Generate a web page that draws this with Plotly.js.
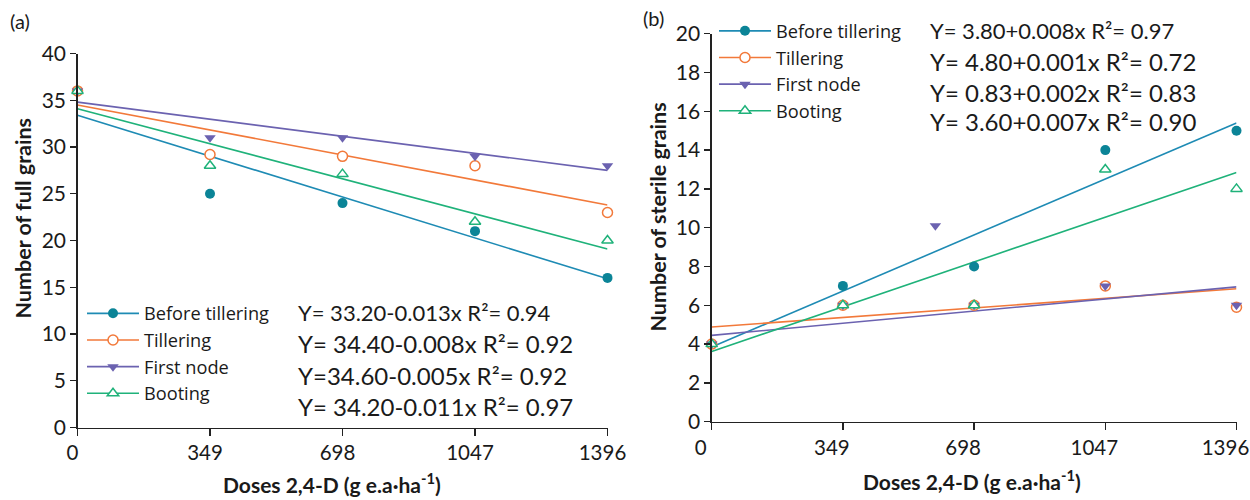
<!DOCTYPE html>
<html>
<head>
<meta charset="utf-8">
<script src="https://cdn.plot.ly/plotly-3.0.1.min.js"></script>
<style>
  html, body { margin: 0; padding: 0; background: #ffffff; }
  #chart { width: 1250px; height: 500px; }
</style>
</head>
<body>
<div id="chart"></div>
<script>
// ---------------- DATA ----------------
const doses = [0, 349, 698, 1047, 1396];
const doseTicks = ['0', '349', '698', '1047', '1396'];
const seriesNames = ['Before tillering', 'Tillering', 'First node', 'Booting'];

// (a) Number of full grains
const fullBefore    = [36, 25, 24, 21, 16];
const fullTillering = [36, 29.2, 29, 28, 23];
const fullFirstNode = [36, 31, 31, 29, 28];
const fullBooting   = [36, 28, 27.1, 22, 20];

// fitted lines (start at dose 0, end at dose 1396)
const fitDoses = [0, 1396];
const fullFitBefore    = [33.4, 15.9];
const fullFitTillering = [34.5, 23.8];
const fullFitFirstNode = [34.8, 27.5];
const fullFitBooting   = [34.1, 19.1];

const fullEquations = [
  'Y= 33.20-0.013x R²= 0.94',
  'Y= 34.40-0.008x R²= 0.92',
  'Y=34.60-0.005x R²= 0.92',
  'Y= 34.20-0.011x R²= 0.97'
];

// (b) Number of sterile grains
const sterileBefore    = [4, 7, 8, 14, 15];
const sterileTillering = [4, 6, 6, 7, 5.9];
const sterileFirstNodeDoses = [0, 349, 595, 698, 1047, 1396];
const sterileFirstNode = [4, 6, 10.1, 6, 7, 6];
const sterileBooting   = [4, 6, 6, 13, 12];

const sterileFitBefore    = [3.85, 15.4];
const sterileFitTillering = [4.88, 6.85];
const sterileFitFirstNode = [4.45, 6.95];
const sterileFitBooting   = [3.62, 12.85];

const sterileEquations = [
  'Y= 3.80+0.008x R²= 0.97',
  'Y= 4.80+0.001x R²= 0.72',
  'Y= 0.83+0.002x R²= 0.83',
  'Y= 3.60+0.007x R²= 0.90'
];

const xTitle = 'Doses 2,4-D (g e.a·ha<sup>-1</sup>)';
const yTitleFull = 'Number of full grains';
const yTitleSterile = 'Number of sterile grains';

// ---------------- STYLE ----------------
const FONT = 'Lato, "Open Sans", "Noto Sans", sans-serif';
const LEGFONT = '"Open Sans", Lato, sans-serif';
const TXT = '#1a1a1a';
const styles = [
  { line: '#1e8bb4', marker: { symbol: 'circle', color: '#0b8497', size: 10, line: { width: 0 } } },
  { line: '#f2793a', marker: { symbol: 'circle-open', color: '#f2793a', size: 10, line: { width: 1.5, color: '#f2793a' } } },
  { line: '#6b62b0', marker: { symbol: 'triangle-down', color: '#6b62b0', size: 10, line: { width: 0 } } },
  { line: '#1fb27a', marker: { symbol: 'triangle-up-open', color: '#1fb27a', size: 10, line: { width: 1.5, color: '#1fb27a' } } }
];

function markerStyle(i) {
  const s = styles[i];
  const m = JSON.parse(JSON.stringify(s.marker));
  if (m.symbol.endsWith('-open')) {
    m.symbol = m.symbol.replace('-open', '');
    m.color = '#ffffff';
  }
  return m;
}

const traces = [];
function addPanel(xa, ya, legendId, xs, ys, fits) {
  fits.forEach((f, i) => {
    traces.push({
      type: 'scatter', mode: 'lines', x: fitDoses, y: f,
      xaxis: xa, yaxis: ya, showlegend: false, hoverinfo: 'skip',
      line: { color: styles[i].line, width: 1.6 }, cliponaxis: false
    });
  });
  ys.forEach((yv, i) => {
    traces.push({
      type: 'scatter', mode: 'markers', x: xs[i], y: yv,
      xaxis: xa, yaxis: ya, showlegend: false,
      marker: markerStyle(i), cliponaxis: false
    });
  });
  seriesNames.forEach((name, i) => {
    traces.push({
      type: 'scatter', mode: 'lines+markers', x: [null], y: [null],
      xaxis: xa, yaxis: ya, name: name, legend: legendId, showlegend: true,
      line: { color: styles[i].line, width: 1.6 },
      marker: markerStyle(i)
    });
  });
}

addPanel('x', 'y', 'legend',
  [doses, doses, doses, doses],
  [fullBefore, fullTillering, fullFirstNode, fullBooting],
  [fullFitBefore, fullFitTillering, fullFitFirstNode, fullFitBooting]);

addPanel('x2', 'y2', 'legend2',
  [doses, doses, sterileFirstNodeDoses, doses],
  [sterileBefore, sterileTillering, sterileFirstNode, sterileBooting],
  [sterileFitBefore, sterileFitTillering, sterileFitFirstNode, sterileFitBooting]);

const W = 1250, H = 500;
const px = v => v / W;
const py = v => 1 - v / H;

function xAxis(domain, anchor, shift) {
  return {
    domain: domain, anchor: anchor, range: [0, 1396],
    tickmode: 'array', tickvals: doses, ticktext: doseTicks,
    ticks: 'outside', ticklen: 7, tickwidth: 1.3, tickcolor: '#222',
    showline: true, linewidth: 1.3, linecolor: '#222',
    showgrid: false, zeroline: false, ticklabeloverflow: 'allow',
    ticklabelshift: shift,
    tickfont: { family: FONT, size: 20.5, color: TXT }
  };
}
function yAxis(domain, anchor, range, dtick) {
  return {
    domain: domain, anchor: anchor, range: range, dtick: dtick, tick0: 0,
    ticks: 'outside', ticklen: 6, tickwidth: 1.3, tickcolor: '#222',
    showline: true, linewidth: 1.3, linecolor: '#222',
    showgrid: false, zeroline: false, ticklabeloverflow: 'allow',
    tickfont: { family: FONT, size: 21, color: TXT }
  };
}

const annotations = [];
const leftEqY = [312.7, 343.3, 375, 406.7];
const leftEqSize = [22, 24, 24, 24];
fullEquations.forEach((t, i) => {
  annotations.push({ xref: 'paper', yref: 'paper', x: px(296), y: py(leftEqY[i]),
    xanchor: 'left', yanchor: 'middle', showarrow: false, text: t,
    font: { family: FONT, size: leftEqSize[i], color: TXT } });
});
const rightEqY = [30.7, 61.7, 92.7, 121.7];
const rightEqSize = [22, 24, 24, 24];
sterileEquations.forEach((t, i) => {
  annotations.push({ xref: 'paper', yref: 'paper', x: px(928), y: py(rightEqY[i]),
    xanchor: 'left', yanchor: 'middle', showarrow: false, text: t,
    font: { family: FONT, size: rightEqSize[i], color: TXT } });
});
// axis titles
annotations.push({ xref: 'paper', yref: 'paper', x: px(22), y: py(218.5), xanchor: 'center', yanchor: 'middle',
  textangle: -90, showarrow: false, text: yTitleFull,
  font: { family: FONT, size: 21.5, color: TXT, weight: 'bold' } });
annotations.push({ xref: 'paper', yref: 'paper', x: px(657), y: py(217.5), xanchor: 'center', yanchor: 'middle',
  textangle: -90, showarrow: false, text: yTitleSterile,
  font: { family: FONT, size: 21.5, color: TXT, weight: 'bold' } });
annotations.push({ xref: 'paper', yref: 'paper', x: px(332), y: py(483), xanchor: 'center', yanchor: 'middle',
  showarrow: false, text: xTitle, font: { family: FONT, size: 21, color: TXT, weight: 'bold' } });
annotations.push({ xref: 'paper', yref: 'paper', x: px(972), y: py(480), xanchor: 'center', yanchor: 'middle',
  showarrow: false, text: xTitle, font: { family: FONT, size: 21, color: TXT, weight: 'bold' } });
// panel labels
annotations.push({ xref: 'paper', yref: 'paper', x: px(8), y: py(21), xanchor: 'left', yanchor: 'middle',
  showarrow: false, text: '(a)', font: { family: FONT, size: 20, color: TXT } });
annotations.push({ xref: 'paper', yref: 'paper', x: px(641), y: py(18), xanchor: 'left', yanchor: 'middle',
  showarrow: false, text: '(b)', font: { family: FONT, size: 20, color: TXT } });

const legendCommon = {
  xanchor: 'left', yanchor: 'top', bgcolor: 'rgba(0,0,0,0)', borderwidth: 0,
  font: { family: LEGFONT, size: 18.2, color: TXT }, tracegroupgap: 0, itemwidth: 52,
  traceorder: 'normal', itemclick: false, itemdoubleclick: false
};

const layout = {
  width: W, height: H,
  margin: { l: 0, r: 0, t: 0, b: 0 },
  paper_bgcolor: '#ffffff', plot_bgcolor: '#ffffff',
  showlegend: true,
  xaxis: xAxis([px(77.5), px(607.5)], 'y', -5),
  yaxis: yAxis([py(427.5), py(53.5)], 'x', [0, 40], 5),
  xaxis2: xAxis([px(711.7), px(1236.5)], 'y2', -11),
  yaxis2: yAxis([py(421.7), py(33.7)], 'x2', [0, 20], 2),
  legend: Object.assign({}, legendCommon, { x: px(82), y: py(295) }),
  legend2: Object.assign({}, legendCommon, { x: px(714), y: py(12.5) }),
  annotations: annotations
};

Plotly.newPlot('chart', traces, layout, { staticPlot: true, displayModeBar: false });
</script>
</body>
</html>
